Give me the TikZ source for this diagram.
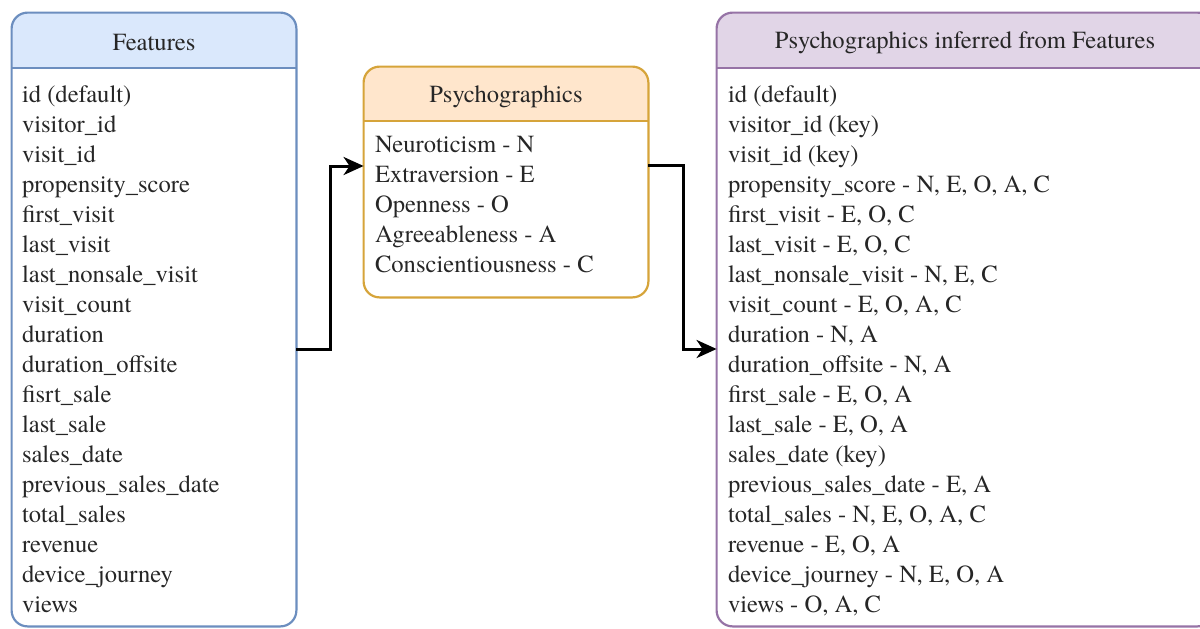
\documentclass[tikz,border=0pt]{standalone}
\usepackage{fontspec}
\setmainfont{texgyretermes}[Extension=.otf, UprightFont=*-regular, BoldFont=*-bold]
\usetikzlibrary{arrows.meta}
\definecolor{featline}{HTML}{6C8EBF}
\definecolor{featfill}{HTML}{DAE8FC}
\definecolor{psyline}{HTML}{D6A43A}
\definecolor{psyfill}{HTML}{FFE6CC}
\definecolor{infline}{HTML}{9673A6}
\definecolor{inffill}{HTML}{E1D5E7}

\begin{document}
\begin{tikzpicture}[x=0.5pt,y=-0.5pt,
	box/.style={fill=white, inner sep=0pt, minimum width=142pt},
	edge/.style={line width=1.1pt, rounded corners=8pt},
	title/.style={font=\fontsize{12.3}{15}\selectfont, text=black!85},
	items/.style={font=\fontsize{12.3}{15}\selectfont, text=black!85, anchor=north west, align=left, inner sep=0pt},
	conn/.style={line width=1.5pt, -{Stealth[length=10pt,width=9pt,inset=3pt]}}]
	
	\useasboundingbox (0,0) rectangle (1200,628);
	\clip (0,0) rectangle (1200,628);
	
	%%%%% FEATURES %%%%%
	\node[box, minimum height=306.5pt] (feat) at (154,319.5) {};
	\begin{scope}
		\clip[rounded corners=8pt] (feat.south west) rectangle (feat.north east);
		\fill[featfill] (feat.north west) rectangle ([yshift=-27.5pt]feat.north east);
	\end{scope}
	\draw[edge, featline] (feat.south west) rectangle (feat.north east);
	\draw[featline, line width=1.1pt] ([yshift=-27.5pt]feat.north west) -- ([yshift=-27.5pt]feat.north east);
	\node[title] (featT) at ([yshift=-15pt]feat.north) {Features};
	\node[items] (featL) at ([xshift=5pt,yshift=-34pt]feat.north west) {\strut id (default)\\ visitor\_id\\ visit\_id\\ propensity\_score\\ first\_visit\\ last\_visit\\ last\_nonsale\_visit\\ visit\_count\\ duration\\ duration\_offsite\\ fisrt\_sale\\ last\_sale\\ sales\_date\\ previous\_sales\_date\\ total\_sales\\ revenue\\ device\_journey\\ views};
	
	%%%%% PSYCHOGRAPHICS %%%%%
	\node[box, minimum height=115pt] (psy) at (506,182) {};
	\begin{scope}
		\clip[rounded corners=8pt] (psy.south west) rectangle (psy.north east);
		\fill[psyfill] (psy.north west) rectangle ([yshift=-27pt]psy.north east);
	\end{scope}
	\draw[edge, psyline] (psy.south west) rectangle (psy.north east);
	\draw[psyline, line width=1.1pt] ([yshift=-27pt]psy.north west) -- ([yshift=-27pt]psy.north east);
	\node[title] (psyT) at ([yshift=-15pt]psy.north) {Psychographics};
	\node[items] (psyL) at ([xshift=5.5pt,yshift=-32pt]psy.north west) {\strut Neuroticism - N\\ Extraversion - E\\ Openness - O\\ Agreeableness - A\\ Conscientiousness - C};
	
	%%%%% INFERRED %%%%%
	\node[box, minimum width=248pt, minimum height=306.5pt] (inf) at (965,319.5) {};
	\begin{scope}
		\clip[rounded corners=8pt] (inf.south west) rectangle (inf.north east);
		\fill[inffill] (inf.north west) rectangle ([yshift=-27.5pt]inf.north east);
	\end{scope}
	\draw[edge, infline] (inf.south west) rectangle (inf.north east);
	\draw[infline, line width=1.1pt] ([yshift=-27.5pt]inf.north west) -- ([yshift=-27.5pt]inf.north east);
	\node[title] (infT) at ([yshift=-15pt]inf.north) {Psychographics inferred from Features};
	\node[items] (infL) at ([xshift=5.5pt,yshift=-34pt]inf.north west) {\strut id (default)\\ visitor\_id (key)\\ visit\_id (key)\\ propensity\_score - N, E, O, A, C\\ first\_visit - E, O, C\\ last\_visit - E, O, C\\ last\_nonsale\_visit - N, E, C\\ visit\_count - E, O, A, C\\ duration - N, A\\ duration\_offsite - N, A\\ first\_sale - E, O, A\\ last\_sale - E, O, A\\ sales\_date (key)\\ previous\_sales\_date - E, A\\ total\_sales - N, E, O, A, C\\ revenue - E, O, A\\ device\_journey - N, E, O, A\\ views - O, A, C};
	
	%%%%% ARROWS %%%%%
	\draw[conn] ([yshift=-14.75pt]feat.east) -- ++(34,0) |- ([yshift=8pt]psy.west);
	\draw[conn] ([yshift=8.5pt]psy.east) -- ++(35,0) |- ([yshift=-14.75pt]inf.west);
	
\end{tikzpicture}
\end{document}
